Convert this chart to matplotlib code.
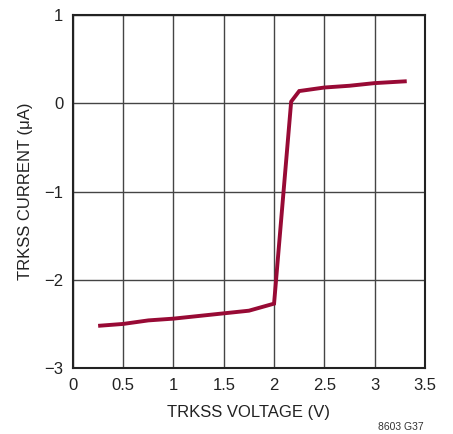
import matplotlib
matplotlib.use('Agg')
import matplotlib.pyplot as plt

plt.rcParams['font.family'] = ['Liberation Sans Narrow', 'Liberation Sans', 'DejaVu Sans']

voltage = [0.27, 0.5, 0.75, 1.0, 1.25, 1.5, 1.75, 2.0, 2.17, 2.25, 2.5, 2.75, 3.0, 3.3]
current = [-2.52, -2.50, -2.46, -2.44, -2.41, -2.38, -2.35, -2.27, 0.02, 0.14, 0.18, 0.20, 0.23, 0.25]

x_ticks = [0, 0.5, 1, 1.5, 2, 2.5, 3, 3.5]
x_labels = ['0', '0.5', '1', '1.5', '2', '2.5', '3', '3.5']
y_ticks = [-3, -2, -1, 0, 1]
y_labels = ['\u22123', '\u22122', '\u22121', '0', '1']

fig = plt.figure(figsize=(4.53, 4.34), dpi=100)
ax = fig.add_axes([0.161, 0.152, 0.777, 0.813])

ax.plot(voltage, current, color='#980a35', lw=2.8, solid_joinstyle='miter', zorder=3)

ax.set_xlim(0, 3.5)
ax.set_ylim(-3, 1)
ax.set_xticks(x_ticks)
ax.set_xticklabels(x_labels)
ax.set_yticks(y_ticks)
ax.set_yticklabels(y_labels)
ax.grid(True, color='#444444', lw=1.0)
ax.tick_params(length=0, labelsize=12, pad=7, colors='#222222')
for s in ax.spines.values():
    s.set_linewidth(1.5)
    s.set_color('#222222')

ax.set_xlabel('TRKSS VOLTAGE (V)', fontsize=12, color='#222222', labelpad=9)
ax.set_ylabel('TRKSS CURRENT (\u03bcA)', fontsize=12, color='#222222', labelpad=8)

fig.text(0.885, 0.005, '8603 G37', fontsize=7.5, color='#333333', ha='center', va='bottom')

fig.savefig('out.png', dpi=100)
